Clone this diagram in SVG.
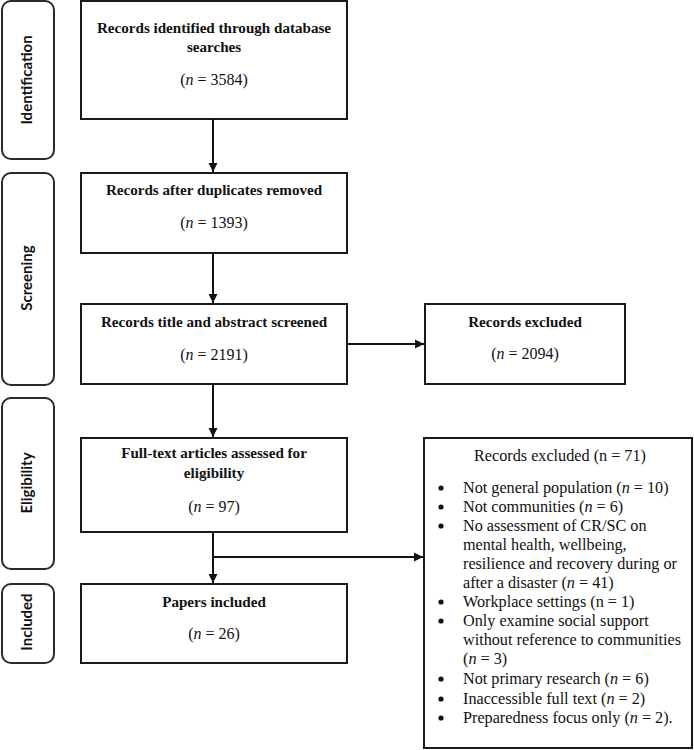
<svg xmlns="http://www.w3.org/2000/svg" width="694" height="750" viewBox="0 0 694 750">
<style>
.box{fill:#fff;stroke:#1a1a1a;stroke-width:2}
.side{fill:#fff;stroke:#2a2a2a;stroke-width:2}
.t{font-family:"Liberation Serif","Times New Roman",serif;font-size:16px;fill:#111;text-anchor:middle}
.b{font-weight:bold;font-size:15.1px}
.s{font-family:Lato,"Open Sans",sans-serif;font-size:15px;font-weight:bold;fill:#111;text-anchor:middle}
.l{font-family:"Liberation Serif","Times New Roman",serif;font-size:16.2px;fill:#111}
.c{fill:none;stroke:#111;stroke-width:2}
.dot{fill:#111}
</style>
<defs>
<marker id="ah" markerWidth="10" markerHeight="10" refX="9" refY="5" orient="auto" markerUnits="userSpaceOnUse">
<path d="M0,0.5 L9,5 L0,9.5 Z" fill="#111"/>
</marker>
</defs>
<g id="lbl-identification"><rect class="side" x="2" y="1" width="52" height="158" rx="9"/><text class="s" transform="translate(32,80) rotate(-90)">Identification</text></g>
<g id="lbl-screening"><rect class="side" x="2" y="173" width="52" height="212" rx="9"/><text class="s" transform="translate(32,278) rotate(-90)">Screening</text></g>
<g id="lbl-eligibility"><rect class="side" x="2" y="398" width="52" height="171" rx="9"/><text class="s" transform="translate(32,483) rotate(-90)">Eligibility</text></g>
<g id="lbl-included"><rect class="side" x="2" y="584" width="52" height="79" rx="9"/><text class="s" transform="translate(32,622) rotate(-90)">Included</text></g>

<g id="n1"><rect class="box" x="81" y="1" width="266" height="118"/>
<text class="t b" x="214" y="33">Records identified through database</text>
<text class="t b" x="214" y="52">searches</text>
<text class="t" x="214" y="85">(<tspan font-style="italic">n</tspan> = 3584)</text></g>
<g id="n2"><rect class="box" x="81" y="173" width="266" height="80"/>
<text class="t b" x="214" y="195">Records after duplicates removed</text>
<text class="t" x="214" y="228">(<tspan font-style="italic">n</tspan> = 1393)</text></g>
<g id="n3"><rect class="box" x="81" y="304" width="266" height="80"/>
<text class="t b" x="214" y="327">Records title and abstract screened</text>
<text class="t" x="214" y="360">(<tspan font-style="italic">n</tspan> = 2191)</text></g>
<g id="n4"><rect class="box" x="425" y="304" width="200" height="80"/>
<text class="t b" x="525" y="327">Records excluded</text>
<text class="t" x="525" y="359">(<tspan font-style="italic">n</tspan> = 2094)</text></g>
<g id="n5"><rect class="box" x="81" y="438" width="266" height="94"/>
<text class="t b" x="214" y="458">Full-text articles assessed for</text>
<text class="t b" x="214" y="478">eligibility</text>
<text class="t" x="214" y="512">(<tspan font-style="italic">n</tspan> = 97)</text></g>
<g id="n6"><rect class="box" x="81" y="584" width="266" height="79"/>
<text class="t b" x="214" y="607">Papers included</text>
<text class="t" x="214" y="639">(<tspan font-style="italic">n</tspan> = 26)</text></g>
<g id="n7"><rect class="box" x="424" y="438" width="268" height="310"/>
<text class="l" x="560" y="461" text-anchor="middle">Records excluded (n = 71)</text>
<g class="dot">
<circle cx="441" cy="488" r="2.6"/><circle cx="441" cy="507" r="2.6"/><circle cx="441" cy="526" r="2.6"/>
<circle cx="441" cy="602" r="2.6"/><circle cx="441" cy="621" r="2.6"/><circle cx="441" cy="679" r="2.6"/>
<circle cx="441" cy="699" r="2.6"/><circle cx="441" cy="718" r="2.6"/>
</g>
<g class="l">
<text x="463" y="493">Not general population (<tspan font-style="italic">n</tspan> = 10)</text>
<text x="463" y="512">Not communities (<tspan font-style="italic">n</tspan> = 6)</text>
<text x="463" y="531">No assessment of CR/SC on</text>
<text x="463" y="550">mental health, wellbeing,</text>
<text x="463" y="569">resilience and recovery during or</text>
<text x="463" y="588">after a disaster (<tspan font-style="italic">n</tspan> = 41)</text>
<text x="463" y="607">Workplace settings (n = 1)</text>
<text x="463" y="626">Only examine social support</text>
<text x="463" y="645">without reference to communities</text>
<text x="463" y="664">(<tspan font-style="italic">n</tspan> = 3)</text>
<text x="463" y="684">Not primary research (<tspan font-style="italic">n</tspan> = 6)</text>
<text x="463" y="704">Inaccessible full text (<tspan font-style="italic">n</tspan> = 2)</text>
<text x="463" y="723">Preparedness focus only (<tspan font-style="italic">n</tspan> = 2).</text>
</g></g>

<g id="connectors">
<line class="c" x1="213" y1="119" x2="213" y2="172" marker-end="url(#ah)"/>
<line class="c" x1="213" y1="253" x2="213" y2="303" marker-end="url(#ah)"/>
<line class="c" x1="347" y1="344" x2="424" y2="344" marker-end="url(#ah)"/>
<line class="c" x1="213" y1="384" x2="213" y2="437" marker-end="url(#ah)"/>
<line class="c" x1="213" y1="532" x2="213" y2="583" marker-end="url(#ah)"/>
<line class="c" x1="212" y1="557" x2="423" y2="557" marker-end="url(#ah)"/>
</g>
</svg>
